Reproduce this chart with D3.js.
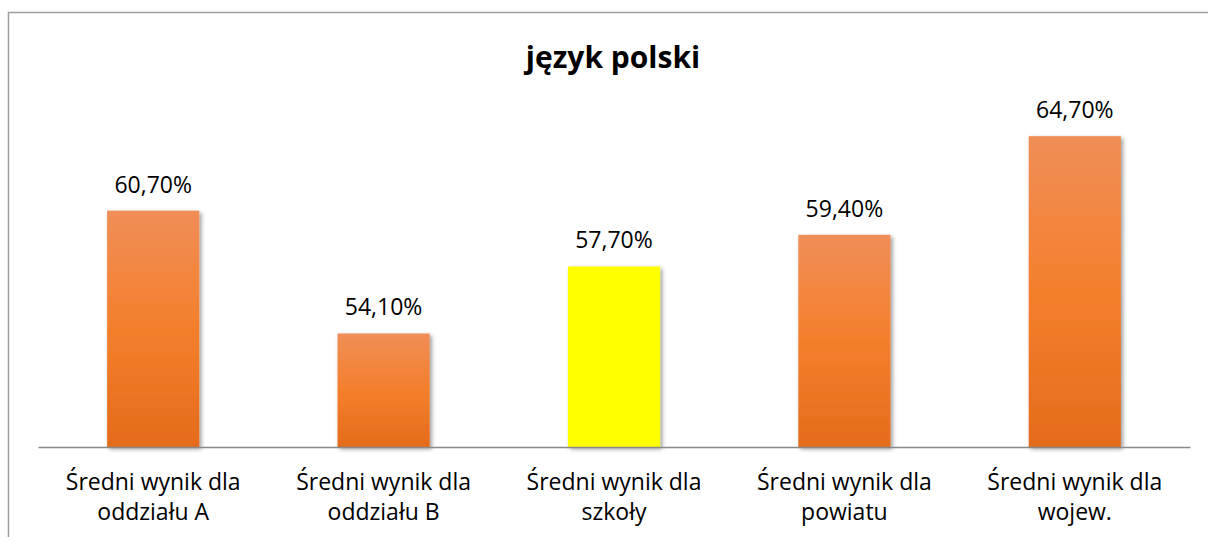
<!DOCTYPE html>
<html><head><meta charset="utf-8">
<script src="https://cdn.jsdelivr.net/npm/d3@7"></script>
<style>html,body{margin:0;padding:0;background:#fff;}svg{display:block;}</style>
</head><body>
<script>
const title = "język polski";
const categories = [
  ["Średni wynik dla", "oddziału A"],
  ["Średni wynik dla", "oddziału B"],
  ["Średni wynik dla", "szkoły"],
  ["Średni wynik dla", "powiatu"],
  ["Średni wynik dla", "wojew."]
];
const values = [60.7, 54.1, 57.7, 59.4, 64.7];
const valueLabels = ["60,70%", "54,10%", "57,70%", "59,40%", "64,70%"];
const highlight = [false, false, true, false, false];
const yDomain = [48, 66];

const W = 1208, H = 537;
const svg = d3.select("body").append("svg").attr("width", W).attr("height", H);
const defs = svg.append("defs");
const grad = defs.append("linearGradient").attr("id", "og").attr("x1", 0).attr("y1", 0).attr("x2", 0).attr("y2", 1);
grad.append("stop").attr("offset", "0%").attr("stop-color", "#F08E57");
grad.append("stop").attr("offset", "50%").attr("stop-color", "#F47F2C");
grad.append("stop").attr("offset", "100%").attr("stop-color", "#E46B1B");
const f = defs.append("filter").attr("id", "sh").attr("x", "-20%").attr("y", "-20%").attr("width", "150%").attr("height", "150%");
f.append("feDropShadow").attr("dx", 2).attr("dy", 2).attr("stdDeviation", 2.2).attr("flood-color", "#000").attr("flood-opacity", 0.4);

// chart border
svg.append("path").attr("d", `M8.5,${H} L8.5,12.5 L${W},12.5`).attr("fill", "none").attr("stroke", "#A0A0A0").attr("stroke-width", 1.5);

const x = d3.scaleBand().domain(d3.range(values.length)).range([38, 1190]).paddingInner(0.6).paddingOuter(0.3);
const y = d3.scaleLinear().domain(yDomain).range([447, 112]);

svg.append("text").attr("x", 613).attr("y", 68).attr("text-anchor", "middle")
  .attr("font-family", "Open Sans, sans-serif").attr("font-weight", "bold").attr("font-size", 30)
  .attr("fill", "#000").text(title);

svg.selectAll("rect.bar").data(values).join("rect").attr("class", "bar")
  .attr("x", (d, i) => x(i)).attr("width", x.bandwidth())
  .attr("y", d => y(d)).attr("height", d => y(yDomain[0]) - y(d))
  .attr("fill", (d, i) => highlight[i] ? "#FFFF00" : "url(#og)")
  .attr("filter", "url(#sh)");

// axis baseline
const axis = d3.axisBottom(x).tickSize(0).tickFormat("");
const ag = svg.append("g").attr("transform", `translate(0,${y(yDomain[0])})`).call(axis);
ag.select(".domain").attr("stroke", "#898989").attr("stroke-width", 1.3);

svg.selectAll("text.val").data(values).join("text").attr("class", "val")
  .attr("x", (d, i) => x(i) + x.bandwidth() / 2).attr("y", d => y(d) - 18)
  .attr("text-anchor", "middle").attr("font-family", "Open Sans, sans-serif").attr("font-size", 23)
  .attr("fill", "#000").text((d, i) => valueLabels[i]);

const cg = svg.selectAll("text.cat").data(categories).join("text").attr("class", "cat")
  .attr("x", (d, i) => x(i) + x.bandwidth() / 2).attr("y", 490)
  .attr("text-anchor", "middle").attr("font-family", "Open Sans, sans-serif").attr("font-size", 23).attr("fill", "#000");
cg.each(function(d, i) {
  const t = d3.select(this);
  d.forEach((line, k) => t.append("tspan").attr("x", x(i) + x.bandwidth() / 2).attr("dy", k === 0 ? 0 : 30).text(line));
});
</script>
</body></html>
